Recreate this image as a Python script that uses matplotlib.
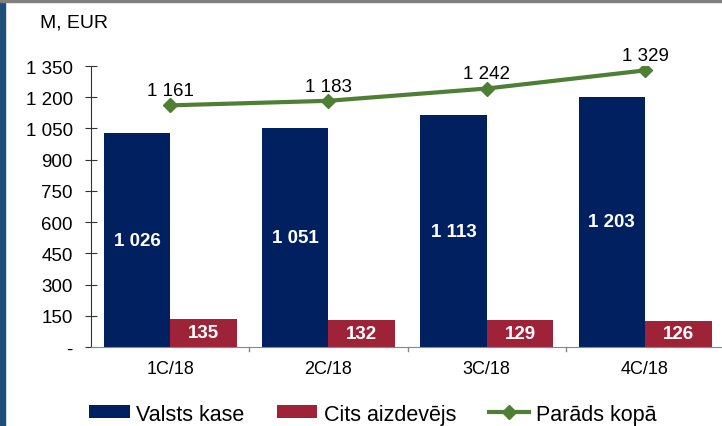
import matplotlib.pyplot as plt
from matplotlib.patches import Rectangle
import numpy as np

plt.rcParams['font.family'] = ['Liberation Sans', 'DejaVu Sans']

quarters = ['1C/18', '2C/18', '3C/18', '4C/18']
valsts_kase = [1026, 1051, 1113, 1203]
cits = [135, 132, 129, 126]
kopa = [1161, 1183, 1242, 1329]
yticks = [0, 150, 300, 450, 600, 750, 900, 1050, 1200, 1350]

def fmt(v):
    return '-' if v == 0 else f'{v:,}'.replace(',', ' ')

blue = '#002060'
red = '#9e2338'
green = '#4f7f35'

fig = plt.figure(figsize=(7.22, 4.27), dpi=100)
ax = fig.add_axes([0.126, 0.185, 0.877, 0.658])

x = np.arange(len(quarters))
w = 0.42
b1 = ax.bar(x - w / 2, valsts_kase, w, color=blue, label='Valsts kase')
b2 = ax.bar(x + w / 2, cits, w, color=red, label='Cits aizdevējs')
ln, = ax.plot(x, kopa, color=green, lw=3, marker='D', ms=7, label='Parāds kopā')

for xi, v in zip(x, valsts_kase):
    ax.text(xi - w / 2, v / 2, fmt(v), ha='center', va='center',
            color='white', fontsize=13.5, fontweight='bold')
for xi, v in zip(x, cits):
    ax.text(xi + w / 2, v / 2, fmt(v), ha='center', va='center',
            color='white', fontsize=13.5, fontweight='bold')
for xi, v in zip(x, kopa):
    ax.text(xi, v + 30, fmt(v), ha='center', va='bottom', fontsize=13.5)

ax.set_xlim(-0.5, 3.5)
ax.set_ylim(0, 1350)
ax.set_yticks(yticks)
ax.set_yticklabels([fmt(t) for t in yticks], fontsize=13.5)
ax.tick_params(axis='y', direction='inout', length=8, pad=9, color='#333333')
ax.set_xticks(x)
ax.set_xticklabels(quarters, fontsize=13)
ax.tick_params(axis='x', length=0, pad=9)
for xb in [0.5, 1.5, 2.5]:
    ax.plot([xb, xb], [0, -18], color='#888888', lw=1, clip_on=False)
for s in ['top', 'right']:
    ax.spines[s].set_visible(False)
ax.spines['left'].set_color('#333333')
ax.spines['bottom'].set_color('#888888')

fig.text(0.055, 0.947, 'M, EUR', fontsize=14, va='center')

fig.legend([b1, b2, ln], ['Valsts kase', 'Cits aizdevējs', 'Parāds kopā'],
           loc='center', bbox_to_anchor=(0.516, 0.028), ncol=3,
           frameon=False, fontsize=15.5, handlelength=1.9, handleheight=0.55,
           columnspacing=1.5, handletextpad=0.3, borderpad=0)

fig.patches.append(Rectangle((0, 0), 0.007, 1, transform=fig.transFigure,
                             color='#1f4e79', zorder=10))
fig.patches.append(Rectangle((0, 0.993), 1, 0.007, transform=fig.transFigure,
                             color='#808080', zorder=10))

plt.savefig('out.png', dpi=100)
plt.close()
